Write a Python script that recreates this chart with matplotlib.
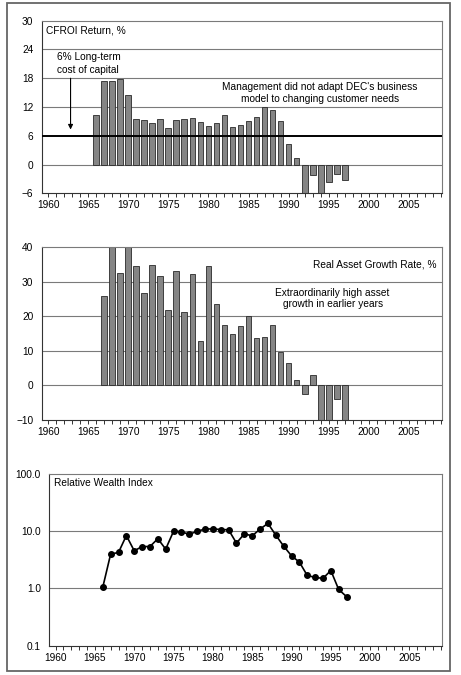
import matplotlib
matplotlib.use("Agg")
import matplotlib.pyplot as plt
from matplotlib.patches import Rectangle

plt.rcParams['font.family'] = ['Liberation Sans', 'DejaVu Sans']

# CFROI return, %
cfroi_years = list(range(1966, 1998))
cfroi = [10.3, 17.4, 17.4, 17.9, 14.5, 9.5, 9.2, 8.7, 9.5, 7.6, 9.2, 9.5,
         9.7, 8.8, 8.1, 8.7, 10.3, 7.8, 8.2, 9.0, 9.9, 11.9, 11.4, 9.0,
         4.2, 1.4, -6.5, -2.2, -6.5, -3.6, -1.9, -3.3]

# Real asset growth rate, %
growth_years = list(range(1967, 1998))
growth = [25.8, 41.0, 32.7, 41.0, 34.5, 26.7, 35.0, 31.6, 21.8, 33.2, 21.2,
          32.2, 13.0, 34.5, 23.6, 17.4, 15.0, 17.1, 20.0, 13.8, 13.9, 17.5,
          9.7, 6.4, 1.6, -2.5, 2.9, -11, -11, -3.9, -11]

# Relative wealth index
rwi_years = list(range(1966, 1998))
rwi = [1.05, 3.98, 4.26, 8.4, 4.55, 5.4, 5.4, 7.4, 4.87, 10.0, 9.8, 8.8,
       10.0, 10.9, 11.0, 10.7, 10.6, 6.2, 9.0, 8.3, 10.9, 13.7, 8.55, 5.5,
       3.72, 2.89, 1.69, 1.56, 1.50, 2.06, 0.96, 0.72]

W, H = 461, 675
fig = plt.figure(figsize=(W / 100, H / 100), dpi=100)

def px_axes(left, top, right, bottom):
    return fig.add_axes([left / W, 1 - bottom / H, (right - left) / W, (bottom - top) / H])

grid_c = '#7a7a7a'
bar_c = '#858585'
fs = 7.3

def style(ax):
    ax.set_xlim(1959.2, 2009.1)
    ax.set_xticks(range(1960, 2010))
    ax.set_xticklabels([str(y) if y % 5 == 0 else '' for y in range(1960, 2010)])
    ax.tick_params(axis='x', direction='out', length=3, width=0.7, pad=2,
                   labelsize=fs, color='#333333')
    ax.tick_params(axis='y', length=0, pad=6, labelsize=fs)
    for s in ['top', 'right']:
        ax.spines[s].set_color(grid_c)
        ax.spines[s].set_linewidth(0.8)
    for s in ['left', 'bottom']:
        ax.spines[s].set_color('#333333')
        ax.spines[s].set_linewidth(0.8)

# panel 1
ax1 = px_axes(41.7, 20.7, 441.7, 193.3)
for y in [0, 12, 18, 24]:
    ax1.axhline(y, color=grid_c, lw=0.8, zorder=0)
ax1.bar(cfroi_years, cfroi, width=0.72, color=bar_c, edgecolor='#2a2a2a', lw=0.6, zorder=2)
ax1.axhline(6, color='black', lw=1.4, zorder=3)
ax1.set_ylim(-6, 30)
ax1.set_yticks(range(-6, 31, 6))
style(ax1)
ax1.text(0.01, 0.945, 'CFROI Return, %', transform=ax1.transAxes, fontsize=fs,
         va='center', ha='left')
ax1.text(1961.1, 21.0, '6% Long-term\ncost of capital', fontsize=fs, ha='left',
         va='center', linespacing=1.35)
ax1.annotate('', xy=(1962.8, 7.3), xytext=(1962.8, 18.0),
             arrowprops=dict(arrowstyle='-|>', color='black', lw=0.8,
                             mutation_scale=7, shrinkA=0, shrinkB=0))
ax1.text(1993.9, 14.9, "Management did not adapt DEC's business\nmodel to changing customer needs",
         fontsize=fs, ha='center', va='center', linespacing=1.2)

# panel 2
ax2 = px_axes(41.7, 247.3, 441.7, 420)
for y in [0, 10, 20, 30]:
    ax2.axhline(y, color=grid_c, lw=0.8, zorder=0)
ax2.bar(growth_years, growth, width=0.72, color=bar_c, edgecolor='#2a2a2a', lw=0.6,
        zorder=2, clip_on=True)
ax2.set_ylim(-10, 40)
ax2.set_yticks(range(-10, 41, 10))
style(ax2)
ax2.text(0.988, 0.9, 'Real Asset Growth Rate, %', transform=ax2.transAxes,
         fontsize=fs, ha='right', va='center')
ax2.text(1995.5, 25.2, 'Extraordinarily high asset\ngrowth in earlier years',
         fontsize=fs, ha='center', va='center', linespacing=1.2)

# panel 3
ax3 = px_axes(49.3, 474, 441.7, 645.7)
for y in [1, 10]:
    ax3.axhline(y, color=grid_c, lw=0.8, zorder=0)
ax3.plot(rwi_years, rwi, color='black', lw=1.2, marker='o', markersize=4.0, zorder=3)
ax3.set_yscale('log')
ax3.set_ylim(0.1, 100)
ax3.set_yticks([0.1, 1, 10, 100])
ax3.set_yticklabels(['0.1', '1.0', '10.0', '100.0'])
ax3.minorticks_off()
style(ax3)
ax3.set_xticks(range(1960, 2010))
ax3.set_xticklabels([str(y) if y % 5 == 0 else '' for y in range(1960, 2010)])
ax3.text(0.012, 0.945, 'Relative Wealth Index', transform=ax3.transAxes,
         fontsize=fs, ha='left', va='center')

# outer frame
fig.patches.append(Rectangle((7 / W, 1 - 671 / H), 443 / W, 668 / H,
                             transform=fig.transFigure, fill=False,
                             edgecolor='#666666', lw=1.3))

fig.savefig('out.png', dpi=100)
